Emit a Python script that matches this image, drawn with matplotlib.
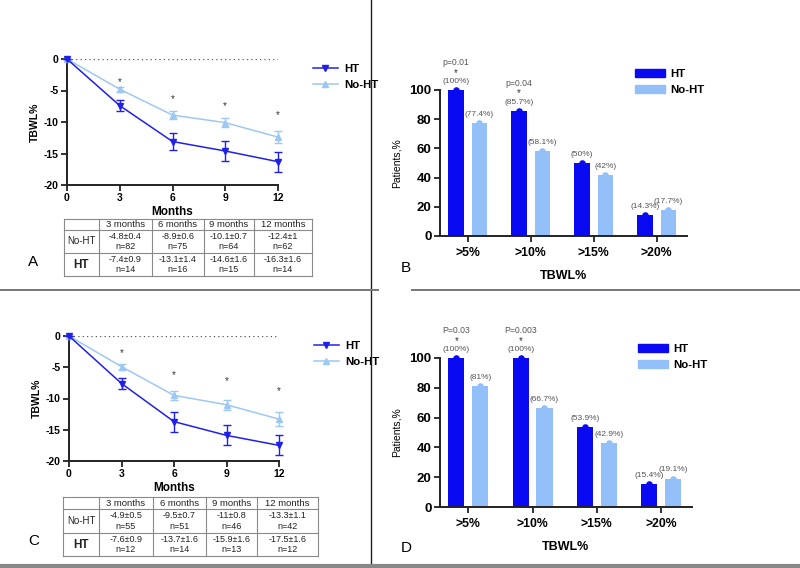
import numpy as np
import matplotlib
matplotlib.use("Agg")
import matplotlib.pyplot as plt
from matplotlib.patches import Patch
from matplotlib.lines import Line2D

plt.rcParams['font.family'] = ['Liberation Sans', 'DejaVu Sans']
plt.rcParams['axes.unicode_minus'] = False

# ---- data ----
months = [0, 3, 6, 9, 12]
month_labels = ["3 months", "6 months", "9 months", "12 months"]

# panel A
a_ht = [0, -7.4, -13.1, -14.6, -16.3]
a_ht_err = [0, 0.9, 1.4, 1.6, 1.6]
a_ht_n = [14, 16, 15, 14]
a_noht = [0, -4.8, -8.9, -10.1, -12.4]
a_noht_err = [0, 0.4, 0.6, 0.7, 1]
a_noht_n = [82, 75, 64, 62]
a_star_y = [-3.6, -6.4, -7.4, -8.9]

# panel C
c_ht = [0, -7.6, -13.7, -15.9, -17.5]
c_ht_err = [0, 0.9, 1.6, 1.6, 1.6]
c_ht_n = [12, 14, 13, 12]
c_noht = [0, -4.9, -9.5, -11, -13.3]
c_noht_err = [0, 0.5, 0.7, 0.8, 1.1]
c_noht_n = [55, 51, 46, 42]
c_star_y = [-2.7, -6.2, -7.2, -8.8]

# panels B and D
cats = [">5%", ">10%", ">15%", ">20%"]
b_ht = [100, 85.7, 50, 14.3]
b_noht = [77.4, 58.1, 42, 17.7]
b_pvals = ["p=0.01", "p=0.04", None, None]
d_ht = [100, 100, 53.9, 15.4]
d_noht = [81, 66.7, 42.9, 19.1]
d_pvals = ["P=0.03", "P=0.003", None, None]

HT_LINE = '#2020ea'
NOHT_LINE = '#9ec8f4'
HT_BAR = '#0a0af2'
NOHT_BAR = '#93c0f8'
W, H = 800, 568

fig = plt.figure(figsize=(8, 5.68), dpi=100)


def px_axes(x0, y0, x1, y1):
    # pixel box (top-left origin) -> figure axes
    return fig.add_axes([x0 / W, 1 - y1 / H, (x1 - x0) / W, (y1 - y0) / H])


def style_axes(ax):
    for s in ['top', 'right']:
        ax.spines[s].set_visible(False)
    for s in ['left', 'bottom']:
        ax.spines[s].set_linewidth(1.4)
        ax.spines[s].set_color('#222222')
    ax.tick_params(length=4, width=1.3, color='#222222', labelsize=7.5, pad=2)
    for lab in ax.get_xticklabels() + ax.get_yticklabels():
        lab.set_fontweight('bold')


def line_panel(box, ht, ht_err, noht, noht_err, star_y, letter, letter_xy):
    ax = px_axes(*box)
    ax.plot([0, 12], [0, 0], ls=(0, (1, 2.5)), color='#555555', lw=0.9, zorder=1)
    ax.errorbar(months, noht, yerr=noht_err, color=NOHT_LINE, marker='^', ms=4.5,
                lw=1.1, capsize=3, elinewidth=1, clip_on=False, zorder=3, label='No-HT')
    ax.errorbar(months, ht, yerr=ht_err, color=HT_LINE, marker='v', ms=4.5,
                lw=1.1, capsize=3, elinewidth=1, clip_on=False, zorder=4, label='HT')
    for m, y in zip(months[1:], star_y):
        ax.text(m, y, '*', ha='center', va='center', fontsize=7, color='#333333')
    ax.set_xlim(0, 12)
    ax.set_ylim(-20, 0)
    ax.set_xticks(months)
    ax.set_yticks([0, -5, -10, -15, -20])
    style_axes(ax)
    ax.set_xlabel('Months', fontsize=8.5, fontweight='bold', labelpad=2)
    ax.set_ylabel('TBWL%', fontsize=7.5, fontweight='bold', labelpad=3)
    handles = [Line2D([], [], color=HT_LINE, marker='v', ms=4.5, lw=1.1),
               Line2D([], [], color=NOHT_LINE, marker='^', ms=4.5, lw=1.1)]
    ax.legend(handles, ['HT', 'No-HT'], loc='upper left',
              bbox_to_anchor=((box[2] + 30) / (box[2] - box[0]) - box[0] / (box[2] - box[0]), 1.0),
              frameon=False, prop={'weight': 'bold', 'size': 8.2},
              handlelength=2.2, labelspacing=0.6, handletextpad=0.6, borderaxespad=0)
    fig.text(letter_xy[0] / W, 1 - letter_xy[1] / H, letter, fontsize=11, ha='left', va='center')
    return ax


def table_panel(cols_px, rows_px, noht, noht_err, noht_n, ht, ht_err, ht_n):
    ax = px_axes(cols_px[0], rows_px[0], cols_px[-1], rows_px[-1])
    ax.set_xlim(cols_px[0], cols_px[-1])
    ax.set_ylim(rows_px[-1], rows_px[0])
    ax.axis('off')
    for x in cols_px:
        ax.plot([x, x], [rows_px[0], rows_px[-1]], color='#8a8a8a', lw=0.8, clip_on=False)
    for y in rows_px:
        ax.plot([cols_px[0], cols_px[-1]], [y, y], color='#8a8a8a', lw=0.8, clip_on=False)
    cx = [(cols_px[i] + cols_px[i + 1]) / 2 for i in range(len(cols_px) - 1)]
    cy = [(rows_px[i] + rows_px[i + 1]) / 2 for i in range(len(rows_px) - 1)]
    for i, lab in enumerate(month_labels):
        ax.text(cx[i + 1], cy[0], lab, ha='center', va='center', fontsize=6.8, color='#222222')
    ax.text(cx[0], cy[1], 'No-HT', ha='center', va='center', fontsize=7, color='#222222')
    ax.text(cx[0], cy[2], 'HT', ha='center', va='center', fontsize=8.5, fontweight='bold', color='#222222')
    for i in range(4):
        ax.text(cx[i + 1], cy[1], f"{noht[i + 1]:g}\u00b1{noht_err[i + 1]:g}\nn={noht_n[i]}",
                ha='center', va='center', fontsize=6.5, color='#222222', linespacing=1.25)
        ax.text(cx[i + 1], cy[2], f"{ht[i + 1]:g}\u00b1{ht_err[i + 1]:g}\nn={ht_n[i]}",
                ha='center', va='center', fontsize=6.5, color='#222222', linespacing=1.25)


def bar_panel(box, ht, noht, pvals, letter, letter_xy, legend_xy):
    ax = px_axes(*box)
    x = np.arange(len(cats))
    off, bw = 0.185, 0.25
    ax.bar(x - off, ht, width=bw, color=HT_BAR, zorder=2)
    ax.bar(x + off, noht, width=bw, color=NOHT_BAR, zorder=2)
    ax.scatter(x - off, ht, s=14, color=HT_BAR, zorder=3, clip_on=False)
    ax.scatter(x + off, noht, s=14, color=NOHT_BAR, zorder=3, clip_on=False)
    for xi, v in zip(x - off, ht):
        ax.annotate(f"({v:g}%)", (xi, v), xytext=(0, 6.2), textcoords='offset points',
                    ha='center', va='center', fontsize=6, color='#555555')
    for xi, v in zip(x + off, noht):
        ax.annotate(f"({v:g}%)", (xi, v), xytext=(0, 6.2), textcoords='offset points',
                    ha='center', va='center', fontsize=6, color='#555555')
    for xi, v, p in zip(x - off, ht, pvals):
        if p:
            ax.annotate('*', (xi, v), xytext=(0, 12.5), textcoords='offset points',
                        ha='center', va='center', fontsize=7, color='#333333')
            ax.annotate(p, (xi, v), xytext=(0, 19.5), textcoords='offset points',
                        ha='center', va='center', fontsize=6.2, color='#555555')
    ax.set_xlim(-0.44, 3.48)
    ax.set_ylim(0, 100)
    ax.set_xticks(x)
    ax.set_xticklabels(cats)
    ax.set_yticks([0, 20, 40, 60, 80, 100])
    style_axes(ax)
    ax.tick_params(axis='y', labelsize=9.5)
    ax.tick_params(axis='x', labelsize=8.8, pad=4)
    ax.set_xlabel('TBWL%', fontsize=9, fontweight='bold', labelpad=8)
    ax.set_ylabel('Patients,%', fontsize=7.5, labelpad=6)
    handles = [Patch(color=HT_BAR), Patch(color=NOHT_BAR)]
    fig.legend(handles, ['HT', 'No-HT'], loc='upper left',
               bbox_to_anchor=(legend_xy[0] / W, 1 - legend_xy[1] / H),
               frameon=False, prop={'weight': 'bold', 'size': 8.2},
               handlelength=2.6, handleheight=0.65, labelspacing=0.55,
               handletextpad=0.5, borderaxespad=0, borderpad=0)
    fig.text(letter_xy[0] / W, 1 - letter_xy[1] / H, letter, fontsize=11, ha='left', va='center')
    return ax


line_panel((67, 59, 278, 185), a_ht, a_ht_err, a_noht, a_noht_err, a_star_y, 'A', (28, 262))
table_panel([64, 99, 152, 204, 254, 312], [219, 230, 253, 276],
            a_noht, a_noht_err, a_noht_n, a_ht, a_ht_err, a_ht_n)

line_panel((69, 336, 279, 461), c_ht, c_ht_err, c_noht, c_noht_err, c_star_y, 'C', (28, 541))
table_panel([63, 99, 153, 206, 257, 318], [497, 509, 533, 556],
            c_noht, c_noht_err, c_noht_n, c_ht, c_ht_err, c_ht_n)

bar_panel((440, 90, 687, 236), b_ht, b_noht, b_pvals, 'B', (401, 268), (635, 69))
bar_panel((440, 358, 692, 507), d_ht, d_noht, d_pvals, 'D', (401, 548), (638, 344))

# panel dividers
fig.add_artist(Line2D([371 / W, 371 / W], [0, 1], color='#222222', lw=1.0))
fig.add_artist(Line2D([0, 378 / W], [1 - 290 / H, 1 - 290 / H], color='#777777', lw=1.4))
fig.add_artist(Line2D([412 / W, 1], [1 - 290 / H, 1 - 290 / H], color='#777777', lw=1.4))
fig.add_artist(Line2D([0, 1], [1 - 566 / H, 1 - 566 / H], color='#888888', lw=3))

fig.savefig('out.png', dpi=100, facecolor='white')
